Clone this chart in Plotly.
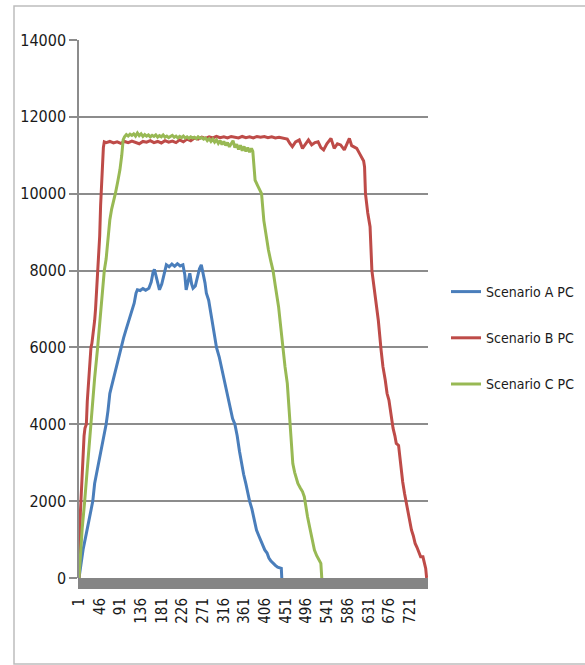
import plotly.graph_objects as go

# Scenario A PC: (time step, value)
time_a = [1, 5, 10, 17, 22, 27, 31, 35, 40, 45, 49, 54, 60, 64, 68, 71, 76, 81, 86, 90, 93, 98, 103, 108, 111,
          116, 121, 125, 128, 134, 140, 146, 153, 158, 162, 165, 169, 173, 176, 181, 186, 191, 197, 203, 209,
          215, 221, 227, 231, 234, 238, 242, 246, 249, 254, 259, 263, 267, 271, 275, 278, 283, 289, 294, 300,
          306, 312, 318, 323, 329, 335, 340, 345, 350, 354, 359, 364, 368, 372, 377, 382, 387, 392, 397, 401,
          405, 410, 414, 418, 423, 428, 433, 437, 441, 442]
pc_a = [0, 350, 750, 1160, 1450, 1750, 2000, 2460, 2750, 3050, 3330, 3650, 4000, 4350, 4800, 4950, 5200, 5400,
        5650, 5850, 6000, 6250, 6450, 6650, 6720, 6950, 7150, 7410, 7500, 7480, 7530, 7490, 7540, 7700, 7950,
        8030, 7850, 7600, 7500, 7650, 7900, 8150, 8100, 8170, 8110, 8180, 8120, 8150, 7900, 7500, 7700, 7930,
        7650, 7540, 7600, 7850, 8050, 8150, 7950, 7680, 7410, 7230, 6800, 6450, 6000, 5750, 5400, 5065, 4850,
        4500, 4150, 4000, 3700, 3300, 2980, 2700, 2450, 2200, 2000, 1800, 1550, 1250, 1100, 950, 800, 730,
        650, 520, 450, 380, 330, 280, 260, 250, 0]

# Scenario B PC
time_b = [1, 2, 4, 6, 8, 10, 12, 14, 17, 19, 21, 23, 25, 27, 29, 31, 33, 35, 37, 39, 41, 43, 44, 46, 48, 50,
          52, 54, 56, 60, 68, 76, 84, 92, 100, 108, 116, 124, 132, 140, 148, 156, 164, 172, 180, 188, 196, 204,
          212, 220, 228, 236, 244, 252, 260, 268, 276, 284, 292, 300, 308, 316, 324, 332, 340, 348, 356, 364,
          372, 380, 388, 396, 404, 412, 420, 428, 436, 444, 454, 460, 465, 472, 480, 487, 494, 500, 507, 514,
          521, 527, 533, 540, 549, 556, 563, 570, 578, 584, 589, 594, 600, 605, 611, 617, 620, 622, 624, 629,
          634, 638, 642, 647, 652, 658, 662, 667, 671, 675, 680, 684, 688, 691, 696, 699, 701, 705, 709, 712,
          716, 720, 724, 728, 732, 736, 740, 744, 749, 752, 755, 757]
pc_b = [0, 1200, 1700, 2200, 2800, 3300, 3700, 3900, 4000, 4600, 5000, 5400, 5800, 6000, 6100, 6300, 6400,
        6700, 7000, 7400, 7700, 8000, 8300, 8900, 9700, 10200, 10800, 11200, 11350, 11330, 11360, 11320,
        11350, 11310, 11360, 11330, 11370, 11330, 11300, 11360, 11340, 11380, 11330, 11360, 11320, 11380,
        11340, 11370, 11330, 11400, 11350, 11420, 11380, 11450, 11420, 11470, 11440, 11480, 11450, 11490,
        11460, 11480, 11450, 11490, 11470, 11450, 11490, 11460, 11480, 11450, 11490, 11470, 11490, 11460,
        11480, 11450, 11470, 11450, 11420, 11300, 11225, 11350, 11400, 11180, 11300, 11400, 11270, 11330,
        11350, 11200, 11140, 11300, 11440, 11180, 11300, 11270, 11140, 11300, 11440, 11250, 11200, 11180,
        11050, 10920, 10850, 10700, 10000, 9500, 9140, 8000, 7600, 7230, 6700, 5930, 5500, 5150, 4800, 4630,
        4200, 3900, 3700, 3500, 3450, 3100, 2800, 2500, 2200, 2000, 1700, 1450, 1250, 1100, 900, 800, 650,
        550, 550, 400, 250, 0]

# Scenario C PC
time_c = [1, 4, 8, 13, 18, 25, 30, 35, 41, 46, 51, 56, 60, 64, 68, 72, 77, 80, 85, 90, 94, 97, 100, 104, 108,
          112, 116, 120, 124, 128, 132, 136, 140, 144, 148, 152, 156, 160, 164, 168, 172, 176, 180, 184, 188,
          192, 196, 200, 204, 208, 212, 216, 220, 224, 228, 232, 236, 240, 244, 248, 252, 256, 260, 264, 268,
          272, 276, 280, 284, 288, 292, 296, 300, 304, 308, 312, 316, 320, 324, 328, 332, 336, 340, 344, 348,
          352, 356, 360, 364, 368, 372, 376, 379, 381, 384, 390, 398, 403, 408, 413, 418, 423, 428, 435, 440,
          444, 449, 454, 457, 459, 462, 466, 470, 474, 477, 482, 487, 491, 494, 498, 503, 508, 513, 518, 523,
          527, 529]
pc_c = [0, 700, 1300, 1950, 2700, 3940, 4500, 5200, 5930, 6600, 7300, 8000, 8300, 8800, 9315, 9600, 9835,
        10000, 10300, 10620, 11000, 11400, 11480, 11540, 11500, 11550, 11520, 11560, 11500, 11580, 11510,
        11560, 11490, 11540, 11500, 11530, 11480, 11520, 11490, 11530, 11470, 11510, 11480, 11530, 11470,
        11500, 11460, 11500, 11520, 11470, 11500, 11450, 11490, 11460, 11500, 11450, 11480, 11440, 11480,
        11450, 11470, 11430, 11480, 11440, 11460, 11420, 11450, 11380, 11430, 11360, 11420, 11340, 11400,
        11310, 11380, 11280, 11360, 11260, 11330, 11220, 11300, 11380, 11200, 11290, 11150, 11260, 11120,
        11230, 11100, 11200, 11080, 11180, 11100, 10800, 10350, 10200, 10000, 9300, 8900, 8535, 8250, 8000,
        7600, 7060, 6500, 6000, 5500, 5065, 4500, 4000, 3500, 2980, 2750, 2600, 2460, 2350, 2250, 2115,
        1850, 1595, 1300, 1000, 730, 580, 450, 380, 0]

tick_labels = ["1", "46", "91", "136", "181", "226", "271", "316", "361", "406", "451",
               "496", "541", "586", "631", "676", "721"]

series = [
    ("Scenario A PC", time_a, pc_a, "#4A7EBB"),
    ("Scenario B PC", time_b, pc_b, "#BE4B48"),
    ("Scenario C PC", time_c, pc_c, "#98B954"),
]

FONT = "DejaVu Sans Condensed, Liberation Sans, Arial, sans-serif"
GRID = "#8C8C8C"

fig = go.Figure()
for name, t, v, color in series:
    fig.add_trace(go.Scatter(
        x=t, y=v, name=name, mode="lines", legendgroup=name,
        line=dict(color=color, width=3),
    ))

# plot area in paper units: left 79px, right 428px, top 40px, bottom 578px
W_PLOT, H_PLOT = 349.0, 538.0

fig.update_layout(
    width=585, height=665,
    margin=dict(l=79, r=157, t=40, b=87, pad=0, autoexpand=False),
    paper_bgcolor="white", plot_bgcolor="white",
    font=dict(family=FONT, size=14, color="#1a1a1a"),
    showlegend=True,
    legend=dict(
        x=(446 - 79) / W_PLOT, y=1 - (276 - 40) / H_PLOT,
        xanchor="left", yanchor="top",
        font=dict(family=FONT, size=14, color="#1a1a1a"),
        tracegroupgap=25, bgcolor="rgba(0,0,0,0)",
        itemwidth=30,
    ),
    xaxis=dict(
        range=[1, 760], showgrid=False, zeroline=False,
        tickmode="array",
        tickvals=[int(s) for s in tick_labels], ticktext=tick_labels,
        tickangle=-90, ticks="", ticklabelstandoff=16,
        tickfont=dict(family=FONT, size=15, color="#1a1a1a"),
        showline=False,
    ),
    yaxis=dict(
        range=[0, 14000], dtick=2000, tick0=0, tickformat="d",
        showgrid=True, gridcolor=GRID, gridwidth=1.5,
        zeroline=False,
        showline=True, linecolor=GRID, linewidth=1.5,
        ticks="outside", ticklen=8, tickcolor=GRID, tickwidth=1.5,
        tickfont=dict(family=FONT, size=16, color="#1a1a1a"),
    ),
    shapes=[
        # thick grey floor under the category axis
        dict(type="rect", xref="paper", yref="paper",
             x0=-1 / W_PLOT, x1=1.0, y0=0, y1=-11 / H_PLOT,
             fillcolor="#858585", line=dict(width=0), layer="below"),
        # outer frame around the chart
        dict(type="rect", xref="paper", yref="paper",
             x0=(14 - 79) / W_PLOT, x1=(600 - 79) / W_PLOT,
             y0=-(664 - 578) / H_PLOT, y1=1 + (40 - 6) / H_PLOT,
             fillcolor="rgba(0,0,0,0)", line=dict(color="#BDBDBD", width=1.5),
             layer="below"),
    ],
)

fig.write_html("out.html")
